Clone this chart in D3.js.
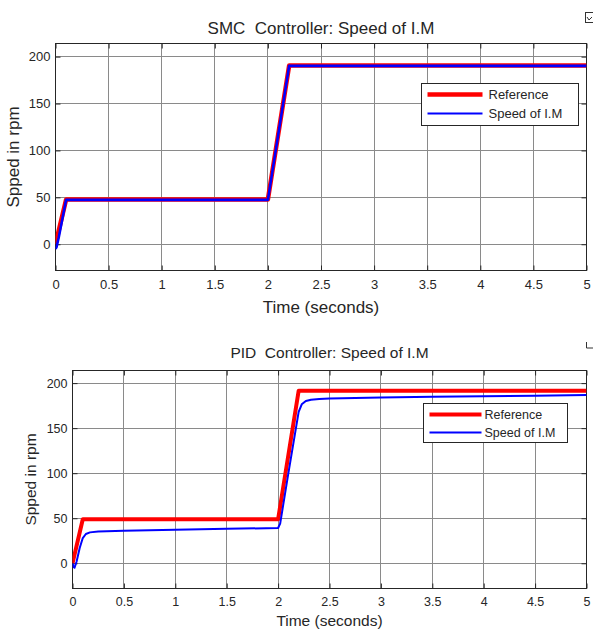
<!DOCTYPE html>
<html><head><meta charset="utf-8">
<script src="https://cdn.jsdelivr.net/npm/d3@7"></script>
<style>body{margin:0;background:#fff}svg{display:block}text{font-family:"Liberation Sans",Arial,sans-serif;fill:#262626;white-space:pre}</style>
</head><body>
<svg id="c" width="593" height="630"></svg>
<script>
// ---- data ----
const xTicks = [0,0.5,1,1.5,2,2.5,3,3.5,4,4.5,5];
const xTickLabels = ["0","0.5","1","1.5","2","2.5","3","3.5","4","4.5","5"];
const yTicks = [0,50,100,150,200];
const legendLabels = ["Reference","Speed of I.M"];
// SMC chart
const smcRefT = [0,0.1,2.0,2.2,5];
const smcRefV = [0,47.8,47.8,190.5,190.5];
const smcSpdT = [0,0.01,0.03,0.1,2.0,2.2,5];
const smcSpdV = [-5,-3,7,47.3,47.3,190.2,190.2];
// PID chart
const pidRefT = [0,0.1,2.0,2.2,5];
const pidRefV = [0,48.8,48.8,191.5,191.5];
const pidSpdT = [0,0.01,0.02,0.04,0.07,0.1,0.13,0.17,0.25,0.5,1.0,1.5,2.0,2.02,2.1,2.2,2.23,2.27,2.32,2.4,2.5,3.0,3.5,4.0,4.5,5];
const pidSpdV = [0,-4,-5,2,17,28,32.5,34.3,35.2,36,37.2,38.2,39.2,44,100,168,176.5,180.2,181.6,182.3,182.9,184,184.8,185.5,186.1,186.7];

const svg = d3.select("#c");

function chart(cfg){
  const g = svg.append("g");
  const x = d3.scaleLinear().domain([0,5]).range([cfg.left,cfg.right]);
  const y = d3.scaleLinear().domain([-28,214]).range([cfg.bottom,cfg.top]);
  // grid
  g.append("g").selectAll("line").data(xTicks).join("line")
    .attr("x1",d=>x(d)).attr("x2",d=>x(d)).attr("y1",cfg.top).attr("y2",cfg.bottom)
    .attr("stroke","#8a8a8a").attr("stroke-width",1).attr("shape-rendering","crispEdges");
  g.append("g").selectAll("line").data(yTicks).join("line")
    .attr("y1",d=>y(d)).attr("y2",d=>y(d)).attr("x1",cfg.left).attr("x2",cfg.right)
    .attr("stroke","#8a8a8a").attr("stroke-width",1).attr("shape-rendering","crispEdges");
  // axes
  const xa = g.append("g").attr("transform",`translate(0,${cfg.bottom})`)
    .call(d3.axisBottom(x).tickValues(xTicks).tickFormat((d,i)=>xTickLabels[i]).tickSize(-5).tickSizeOuter(0).tickPadding(cfg.tp));
  const xat = g.append("g").attr("transform",`translate(0,${cfg.top})`)
    .call(d3.axisTop(x).tickValues(xTicks).tickFormat("").tickSize(-5).tickSizeOuter(0));
  const ya = g.append("g").attr("transform",`translate(${cfg.left},0)`)
    .call(d3.axisLeft(y).tickValues(yTicks).tickSize(-5).tickSizeOuter(0).tickPadding(5));
  const yar = g.append("g").attr("transform",`translate(${cfg.right},0)`)
    .call(d3.axisRight(y).tickValues(yTicks).tickFormat("").tickSize(-5).tickSizeOuter(0));
  [xa,xat,ya,yar].forEach(a=>{
    a.selectAll("path").remove();
    a.selectAll("line").attr("stroke","#262626");
    a.selectAll("text").attr("font-size",cfg.tick).style("font-family","Liberation Sans, Arial, sans-serif").attr("fill","#262626");
  });
  // box
  g.append("rect").attr("x",cfg.left).attr("y",cfg.top).attr("width",cfg.right-cfg.left).attr("height",cfg.bottom-cfg.top)
    .attr("fill","none").attr("stroke","#262626").attr("stroke-width",1).attr("shape-rendering","crispEdges");
  // lines
  const clip = "clip"+cfg.id;
  g.append("clipPath").attr("id",clip).append("rect").attr("x",cfg.left).attr("y",cfg.top).attr("width",cfg.right-cfg.left).attr("height",cfg.bottom-cfg.top);
  const line = d3.line().x(d=>x(d[0])).y(d=>y(d[1]));
  g.append("path").datum(cfg.refT.map((t,i)=>[t,cfg.refV[i]])).attr("d",line)
    .attr("fill","none").attr("stroke","#ff0000").attr("stroke-width",cfg.rw).attr("stroke-linejoin","round").attr("clip-path",`url(#${clip})`);
  g.append("path").datum(cfg.spT.map((t,i)=>[t,cfg.spV[i]])).attr("d",line)
    .attr("fill","none").attr("stroke","#0000ff").attr("stroke-width",cfg.bw).attr("stroke-linejoin","round").attr("clip-path",`url(#${clip})`);
  // title & labels
  g.append("text").attr("x",(cfg.left+cfg.right)/2).attr("y",cfg.titleY).attr("text-anchor","middle")
    .attr("font-size",cfg.titleSize).attr("xml:space","preserve").text(cfg.title);
  g.append("text").attr("x",(cfg.left+cfg.right)/2).attr("y",cfg.xlabY).attr("text-anchor","middle")
    .attr("font-size",cfg.labSize).text("Time (seconds)");
  g.append("text").attr("transform",`translate(${cfg.ylabX},${(cfg.top+cfg.bottom)/2}) rotate(-90)`).attr("text-anchor","middle")
    .attr("font-size",cfg.labSize).text("Spped in rpm");
  // legend
  const L = cfg.leg;
  g.append("rect").attr("x",L.x).attr("y",L.y).attr("width",L.w).attr("height",L.h)
    .attr("fill","#fff").attr("stroke","#262626").attr("stroke-width",1).attr("shape-rendering","crispEdges");
  const cols = ["#ff0000","#0000ff"], ws=[cfg.rw,2];
  legendLabels.forEach((lab,i)=>{
    const yy = L.y + L.r0 + i*L.dy;
    g.append("line").attr("x1",L.x+6).attr("x2",L.x+6+L.ll).attr("y1",yy).attr("y2",yy)
      .attr("stroke",cols[i]).attr("stroke-width",ws[i]);
    g.append("text").attr("x",L.x+L.tx).attr("y",yy).attr("dy","0.35em").attr("font-size",L.fs).text(lab);
  });
}

chart({id:1,left:55.5,right:586.5,top:43.5,bottom:270.5,tp:9,tick:13,titleY:34,titleSize:17,xlabY:313,labSize:17,ylabX:19,
  title:"SMC  Controller: Speed of I.M",refT:smcRefT,refV:smcRefV,spT:smcSpdT,spV:smcSpdV,rw:4.5,bw:2.6,
  leg:{x:421.5,y:83.5,w:157,h:42,r0:11,dy:19,ll:55,tx:67,fs:13}});
chart({id:2,left:72.5,right:586.5,top:370.5,bottom:588.5,tp:9,tick:12.5,titleY:358,titleSize:15.5,xlabY:626,labSize:15.5,ylabX:36,
  title:"PID  Controller: Speed of I.M",refT:pidRefT,refV:pidRefV,spT:pidSpdT,spV:pidSpdV,rw:4,bw:2,
  leg:{x:423.5,y:403.5,w:144,h:39,r0:11,dy:18,ll:52,tx:61,fs:12.5}});

// corner icons
svg.append("rect").attr("x",585.5).attr("y",12.5).attr("width",9).attr("height",10).attr("fill","none").attr("stroke","#333").attr("stroke-width",1);
svg.append("path").attr("d","M587,17 l2,3 l3,-3").attr("fill","none").attr("stroke","#333").attr("stroke-width",1);
svg.append("path").attr("d","M586.5,342 v6 h7").attr("fill","none").attr("stroke","#333").attr("stroke-width",1);
</script>
</body></html>
